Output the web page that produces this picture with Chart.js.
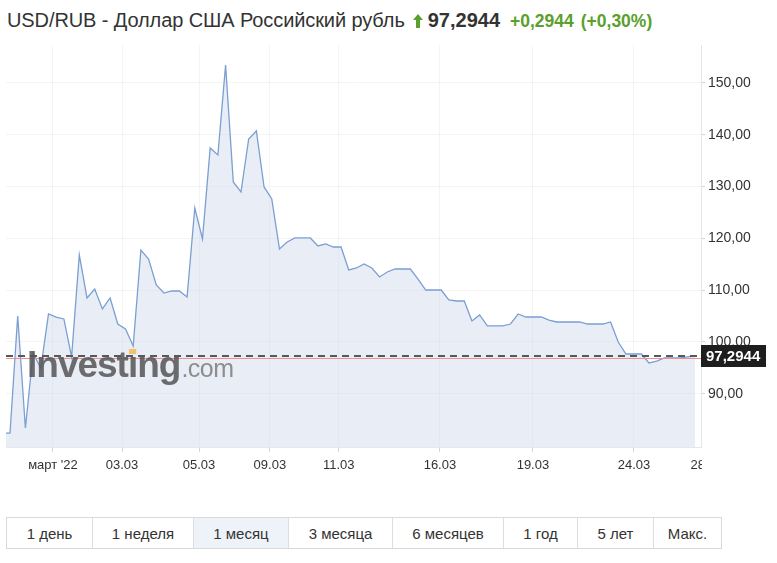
<!DOCTYPE html>
<html lang="ru">
<head>
<meta charset="utf-8">
<title>USD/RUB</title>
<style>
  * { margin: 0; padding: 0; box-sizing: border-box; }
  body {
    width: 777px; height: 563px; overflow: hidden; position: relative;
    background: #fff; color: #333;
    font-family: "Liberation Sans", Arial, sans-serif;
  }
  .head { position: absolute; left: 7px; top: 9px; display: flex; align-items: baseline; white-space: nowrap; }
  .name { font-size: 20px; letter-spacing: -0.1px; }
  .arrow { margin-left: 8px; width: 10px; height: 14px; align-self: center; }
  .last { font-size: 20px; font-weight: bold; margin-left: 5px; }
  .chg, .pct { font-size: 17.5px; font-weight: bold; color: #5aa02c; }
  .chg { margin-left: 10px; }
  .pct { margin-left: 7px; }
  .chartBox { position: absolute; left: 0; top: 0; width: 777px; height: 490px; }
  .periods { position: absolute; left: 6px; top: 517px; width: 716px; height: 32px; border: 1px solid #dadada; display: flex; }
  .periods div { display: flex; align-items: center; justify-content: center; font-size: 15px; border-right: 1px solid #dedede; }
  .periods div:last-child { border-right: none; flex: 1; }
  .periods .on { background: #eef3fa; }
</style>
</head>
<body>
  <div class="head">
    <span class="name">USD/RUB - Доллар США Российский рубль</span>
    <svg class="arrow" viewBox="0 0 10 14"><polygon points="5,0 10,6 7,6 7,14 3,14 3,6 0,6" fill="#5aa02c"/></svg>
    <span class="last">97,2944</span>
    <span class="chg">+0,2944</span>
    <span class="pct">(+0,30%)</span>
  </div>

  <div class="chartBox"><canvas id="myChart"></canvas></div>

  <div class="periods">
    <div style="width:86px">1 день</div>
    <div style="width:101px">1 неделя</div>
    <div class="on" style="width:95px">1 месяц</div>
    <div style="width:104px">3 месяца</div>
    <div style="width:111px">6 месяцев</div>
    <div style="width:74px">1 год</div>
    <div style="width:76px">5 лет</div>
    <div>Макс.</div>
  </div>

  <script src="https://cdn.jsdelivr.net/npm/chart.js"></script>
  <script>
    // one value per bar, the first one sits just left of the visible range
    const rates = [
      82.4, 82.44, 105.02, 83.41, 97.88, 94.98, 105.4, 104.82, 104.44, 97.11,
      116.79, 108.49, 110.23, 106.37, 108.49, 103.47, 102.51, 99.23, 117.75, 116.01,
      111.0, 109.45, 109.84, 109.84, 108.68, 125.85, 119.87, 137.43, 136.08, 153.44,
      130.87, 128.94, 139.17, 140.71, 129.91, 127.59, 117.94, 119.29, 120.07, 120.07,
      120.07, 118.52, 118.91, 118.33, 118.33, 113.89, 114.28, 115.05, 114.28, 112.54,
      113.51, 114.08, 114.08, 114.08, 112.15, 110.03, 110.03, 110.03, 108.1, 107.91,
      107.91, 104.05, 105.21, 103.09, 103.09, 103.09, 103.47, 105.4, 104.82, 104.82,
      104.82, 104.24, 103.86, 103.86, 103.86, 103.86, 103.47, 103.47, 103.47, 103.86,
      100.0, 97.68, 97.68, 97.68, 95.95, 96.33, 96.91, 96.91, 96.91, 97.11, 97.29
    ];
    const dateTicks = [5.58, 14.55, 24.55, 33.75, 42.7, 55.84, 67.92, 81.04, 90.5];
    const dateLabels = ["март '22", "03.03", "05.03", "09.03", "11.03", "16.03", "19.03", "24.03", "28.03"];
    const priceTicks = [90, 100, 110, 120, 130, 140, 150];
    const lastPrice = 97.2944;
    const prevClose = 97.0;

    const xMin = -0.52, xMax = 89.75;
    const FONT = '"Liberation Sans", Arial, sans-serif';

    const fmt = (v, d) => v.toFixed(d).replace(".", ",");

    const overlay = {
      id: "overlay",
      afterDatasetsDraw(chart) {
        const { ctx, chartArea: a, scales: { y } } = chart;
        ctx.save();
        // previous close
        let py = Math.round(y.getPixelForValue(prevClose)) + 0.5;
        ctx.strokeStyle = "#e99090";
        ctx.lineWidth = 1;
        ctx.beginPath();
        ctx.moveTo(a.left, py);
        ctx.lineTo(a.right, py);
        ctx.stroke();
        // last price
        py = Math.round(y.getPixelForValue(lastPrice));
        ctx.strokeStyle = "#585858";
        ctx.lineWidth = 2;
        ctx.setLineDash([7, 5]);
        ctx.beginPath();
        ctx.moveTo(a.left, py);
        ctx.lineTo(a.right, py);
        ctx.stroke();
        ctx.setLineDash([]);

        // watermark
        ctx.textBaseline = "alphabetic";
        ctx.textAlign = "left";
        ctx.font = "bold 37px " + FONT;
        ctx.letterSpacing = "-1px";
        ctx.fillStyle = "rgba(85,85,85,0.85)";
        const wx = 27, wy = 377;
        ctx.fillText("Investing", wx, wy);
        const iw = ctx.measureText("Investing").width;
        const ix = wx + ctx.measureText("Invest").width;
        const idot = ctx.measureText("i").width;
        ctx.fillStyle = "#f0c26a";
        ctx.fillRect(ix + 1, wy - 28, idot - 2, 5);
        ctx.font = "25px " + FONT;
        ctx.letterSpacing = "-0.5px";
        ctx.fillStyle = "rgba(125,125,125,0.85)";
        ctx.fillText(".com", wx + iw + 1, wy);
        ctx.letterSpacing = "0px";
        ctx.restore();
      },
      afterDraw(chart) {
        const { ctx, chartArea: a, scales: { x, y } } = chart;
        ctx.save();
        // date labels, the last one is cut by the price axis
        ctx.beginPath();
        ctx.rect(0, a.bottom, a.right + 1, 40);
        ctx.clip();
        ctx.font = "13px " + FONT;
        ctx.fillStyle = "#333";
        ctx.textAlign = "center";
        ctx.textBaseline = "middle";
        dateTicks.forEach((v, i) => {
          ctx.fillText(dateLabels[i], x.getPixelForValue(v), a.bottom + 18);
        });
        ctx.restore();

        // last price box
        ctx.save();
        const py = y.getPixelForValue(lastPrice);
        ctx.fillStyle = "#1e1e1e";
        ctx.fillRect(a.right, Math.round(py) - 11, 65, 22);
        ctx.font = "bold 15px " + FONT;
        ctx.fillStyle = "#fff";
        ctx.textAlign = "left";
        ctx.textBaseline = "middle";
        ctx.fillText(fmt(lastPrice, 4), a.right + 5, Math.round(py) + 1);
        ctx.restore();
      },
    };

    const config = {
      type: "line",
      data: {
        datasets: [
          {
            data: rates.map((v, i) => ({ x: i - 1, y: v })),
            borderColor: "#7b9fd3",
            borderWidth: 1.3,
            backgroundColor: "rgba(200,210,230,0.4)",
            fill: "start",
            pointRadius: 0,
            tension: 0,
          },
        ],
      },
      options: {
        responsive: true,
        maintainAspectRatio: false,
        animation: false,
        layout: { padding: { left: 6, top: 45, right: 0, bottom: 0 } },
        plugins: { legend: { display: false }, tooltip: { enabled: false } },
        scales: {
          x: {
            type: "linear",
            min: xMin,
            max: xMax,
            afterBuildTicks: (s) => {
              s.ticks = dateTicks.filter((v) => v <= xMax).map((v) => ({ value: v }));
            },
            afterFit: (s) => { s.height = 43; },
            ticks: { display: false },
            grid: { color: "rgba(0,0,0,0.045)", tickLength: 5, tickColor: "#d6d6d6" },
            border: { color: "#e3e7ee" },
          },
          y: {
            position: "right",
            min: 79.74,
            max: 157.3,
            afterBuildTicks: (s) => {
              s.ticks = priceTicks.map((v) => ({ value: v }));
            },
            afterFit: (s) => { s.width = 76; },
            ticks: {
              padding: 3,
              color: "#333",
              font: { family: FONT, size: 14 },
              callback: (v) => fmt(v, 2),
            },
            grid: { color: "rgba(0,0,0,0.045)", tickLength: 4, tickColor: "#d6d6d6" },
            border: { color: "#e0e5ee" },
          },
        },
      },
      plugins: [overlay],
    };

    const myChart = new Chart(document.getElementById("myChart"), config);
  </script>
</body>
</html>
